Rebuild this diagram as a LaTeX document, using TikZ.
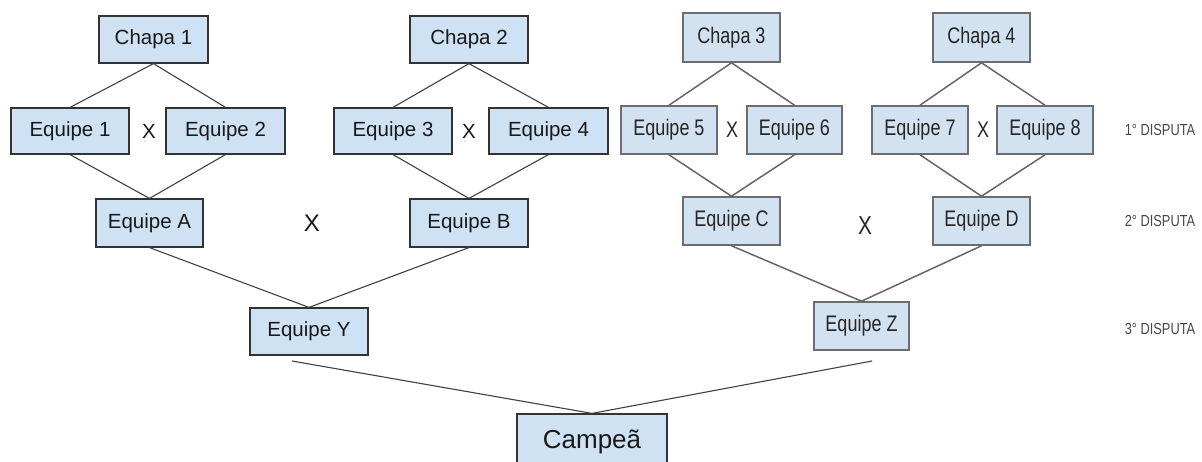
\documentclass[tikz,border=0pt]{standalone}
\usepackage{fontspec}
\setmainfont{Liberation Sans}
\newfontfamily\narrowfont[FakeStretch=0.8]{Liberation Sans}
\definecolor{lfill}{HTML}{CFE2F3}
\definecolor{rfill}{HTML}{D3E2F0}
\definecolor{rdraw}{HTML}{6A6E72}
\begin{document}
\begin{tikzpicture}[x=1pt,y=-1pt,
  lbox/.style={draw=black!80, line width=1.2pt, fill=lfill, inner sep=0pt, text=black!90,
    font=\fontsize{20.5}{24}\selectfont},
  rbox/.style={draw=rdraw, line width=1.6pt, fill=rfill, inner sep=0pt, text=black!85,
    font=\narrowfont\fontsize{22.5}{26}\selectfont},
  lline/.style={draw=black!75, line width=1.1pt},
  rline/.style={draw=black!60, line width=1.5pt},
  lx/.style={inner sep=0pt, text=black!90, font=\fontsize{20.5}{24}\selectfont},
  rx/.style={inner sep=0pt, text=black!85, font=\narrowfont\fontsize{22.5}{26}\selectfont},
  disp/.style={inner sep=0pt, text=black!72, font=\narrowfont\fontsize{16}{18}\selectfont}]
\useasboundingbox (0,0) rectangle (1202,462);
\clip (0,0) rectangle (1202,462);
% ---------- left half ----------
\node[lbox, minimum width=109pt, minimum height=47pt] (c1) at (153.5,39.5) {Chapa 1};
\node[lbox, minimum width=118pt, minimum height=47pt] (c2) at (469,39.5) {Chapa 2};
\node[lbox, minimum width=118pt, minimum height=46pt] (e1) at (70,131) {Equipe 1};
\node[lbox, minimum width=119pt, minimum height=46pt] (e2) at (225.5,131) {Equipe 2};
\node[lbox, minimum width=118pt, minimum height=46pt] (e3) at (393,131) {Equipe 3};
\node[lbox, minimum width=119pt, minimum height=46pt] (e4) at (548.5,131) {Equipe 4};
\node[lbox, minimum width=107pt, minimum height=48pt] (ea) at (149.5,223) {Equipe A};
\node[lbox, minimum width=118pt, minimum height=48pt] (eb) at (469,223) {Equipe B};
\node[lbox, minimum width=118pt, minimum height=47pt] (ey) at (309,331.5) {Equipe Y};
\node[lbox, minimum width=150pt, minimum height=56pt, font=\fontsize{26}{30}\selectfont] (camp) at (592,442) {Campeã};
\node[lx] (x1) at (149,131) {X};
\node[lx] (x2) at (469,131) {X};
\node[lx, font=\fontsize{24}{28}\selectfont] (xab) at (312,223) {X};
\draw[lline] (c1.south) -- (e1.north);
\draw[lline] (c1.south) -- (e2.north);
\draw[lline] (c2.south) -- (e3.north);
\draw[lline] (c2.south) -- (e4.north);
\draw[lline] (e1.south) -- (ea.north);
\draw[lline] (e2.south) -- (ea.north);
\draw[lline] (e3.south) -- (eb.north);
\draw[lline] (e4.south) -- (eb.north);
\draw[lline] (ea.south) -- (ey.north);
\draw[lline] (eb.south) -- (ey.north);
% ---------- right half ----------
\node[rbox, minimum width=97pt, minimum height=49pt] (c3) at (731.5,37.5) {Chapa 3};
\node[rbox, minimum width=97pt, minimum height=49pt] (c4) at (981.5,37.5) {Chapa 4};
\node[rbox, minimum width=96pt, minimum height=48pt] (e5) at (669,130) {Equipe 5};
\node[rbox, minimum width=95pt, minimum height=48pt] (e6) at (794.5,130) {Equipe 6};
\node[rbox, minimum width=96pt, minimum height=48pt] (e7) at (920,130) {Equipe 7};
\node[rbox, minimum width=96pt, minimum height=48pt] (e8) at (1045,130) {Equipe 8};
\node[rbox, minimum width=97pt, minimum height=48pt] (ec) at (731.5,221) {Equipe C};
\node[rbox, minimum width=97pt, minimum height=48pt] (ed) at (981.5,221) {Equipe D};
\node[rbox, minimum width=95pt, minimum height=48pt] (ez) at (861.5,326) {Equipe Z};
\node[rx] (x3) at (732,130) {X};
\node[rx] (x4) at (983,130) {X};
\node[rx, font=\narrowfont\fontsize{26}{28}\selectfont] (xcd) at (865,226) {X};
\draw[rline] (c3.south) -- (e5.north);
\draw[rline] (c3.south) -- (e6.north);
\draw[rline] (c4.south) -- (e7.north);
\draw[rline] (c4.south) -- (e8.north);
\draw[rline] (e5.south) -- (ec.north);
\draw[rline] (e6.south) -- (ec.north);
\draw[rline] (e7.south) -- (ed.north);
\draw[rline] (e8.south) -- (ed.north);
\draw[rline] (ec.south) -- (ez.north);
\draw[rline] (ed.south) -- (ez.north);
% ---------- final ----------
\coordinate (yend) at (292,361);
\coordinate (zend) at (872,361);
\draw[lline] (yend) -- (camp.north);
\draw[lline] (zend) -- (camp.north);
% ---------- stage labels ----------
\node[disp] (d1) at (1160,130) {1° DISPUTA};
\node[disp] (d2) at (1160,221) {2° DISPUTA};
\node[disp] (d3) at (1160,329) {3° DISPUTA};
\end{tikzpicture}
\end{document}
